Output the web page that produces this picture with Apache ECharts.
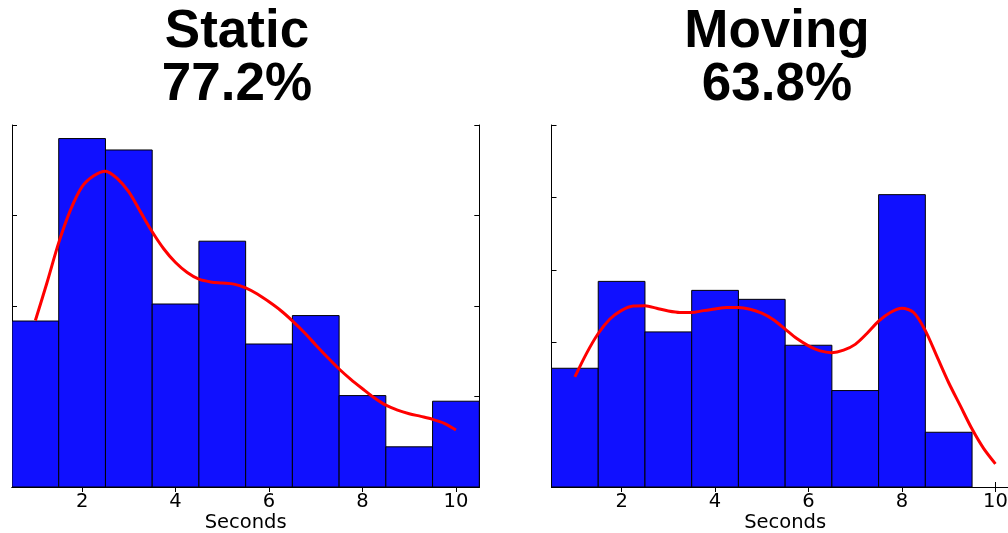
<!DOCTYPE html>
<html><head><meta charset="utf-8">
<script src="https://cdn.jsdelivr.net/npm/echarts@6/dist/echarts.min.js"></script>
<style>html,body{margin:0;padding:0;background:#fff}#c{width:1008px;height:533px}</style>
</head><body><div id="c"></div>
<script>
// ---- data ----
const binCenters = [1, 2, 3, 4, 5, 6, 7, 8, 9, 10];
const staticDensity = [0.0917, 0.1925, 0.1862, 0.1011, 0.1358, 0.0790, 0.0947, 0.0505, 0.0222, 0.0474];
const movingDensity = [0.0820, 0.1420, 0.1071, 0.1358, 0.1296, 0.0979, 0.0666, 0.2019, 0.0378, 0];
const kdeX = [1, 1.25, 1.5, 1.75, 2, 2.25, 2.5, 2.75, 3, 3.25, 3.5, 3.75, 4, 4.25, 4.5, 4.75, 5, 5.25, 5.5, 5.75,
              6, 6.25, 6.5, 6.75, 7, 7.25, 7.5, 7.75, 8, 8.25, 8.5, 8.75, 9, 9.25, 9.5, 9.75, 10];
const staticKde = [0.092, 0.113, 0.135, 0.153, 0.166, 0.172, 0.1745, 0.1705, 0.163, 0.152, 0.141, 0.1315, 0.124, 0.1185,
                   0.1148, 0.1133, 0.1127, 0.1121, 0.110, 0.1066, 0.1023, 0.0975, 0.0918, 0.0855, 0.0785, 0.0717, 0.0652,
                   0.0595, 0.0543, 0.0493, 0.0452, 0.0425, 0.0405, 0.039, 0.0374, 0.0352, 0.0315];
const movingKde = [0.076, 0.0923, 0.106, 0.116, 0.122, 0.125, 0.1252, 0.1234, 0.1215, 0.1205, 0.1205, 0.1218, 0.123,
                   0.124, 0.124, 0.1228, 0.120, 0.1155, 0.109, 0.1025, 0.0975, 0.094, 0.0928, 0.0945, 0.0985, 0.106,
                   0.1145, 0.1205, 0.1234, 0.1205, 0.108, 0.090, 0.072, 0.056, 0.040, 0.0265, 0.016];
const xTickValues = [2, 4, 6, 8, 10];
const panelTitles = ['Static\n77.2%', 'Moving\n63.8%'];
const xAxisName = 'Seconds';
const yMax = [0.2, 0.25];
const yStep = 0.05;

// ---- chart ----
const chart = echarts.init(document.getElementById('c'), null, {renderer: 'canvas'});
const grids = [
  {left: 12, top: 125, width: 467.3, height: 362, outerBoundsMode: 'none', containLabel: false},
  {left: 551.5, top: 125, width: 467.3, height: 362, outerBoundsMode: 'none', containLabel: false}
];
const tickFont = {fontFamily: 'DejaVu Sans', fontSize: 19.5, color: '#000'};
const xAxes = [], yAxes = [], series = [];
grids.forEach((g, i) => {
  xAxes.push({
    gridIndex: i, type: 'value', position: 'bottom', min: 0.5, max: 10.5,
    axisLine: {show: true, lineStyle: {color: '#000', width: 1}},
    axisTick: {show: true, inside: true, length: 5, customValues: xTickValues, lineStyle: {color: '#000'}},
    axisLabel: {show: true, customValues: xTickValues, margin: 5, ...tickFont},
    splitLine: {show: false},
    name: xAxisName, nameLocation: 'middle', nameGap: 26, nameMoveOverlap: false,
    nameTextStyle: {fontFamily: 'DejaVu Sans', fontSize: 19.5, color: '#000'}
  });
  xAxes.push({
    gridIndex: i, type: 'value', position: 'top', min: 0.5, max: 10.5,
    axisLine: {show: true, lineStyle: {color: '#000', width: 1}},
    axisTick: {show: true, inside: true, length: 5, customValues: xTickValues, lineStyle: {color: '#000'}},
    axisLabel: {show: false}, splitLine: {show: false}
  });
  yAxes.push({
    gridIndex: i, type: 'value', position: 'left', min: 0, max: yMax[i], interval: yStep,
    axisLine: {show: true, lineStyle: {color: '#000', width: 1}},
    axisTick: {show: true, inside: true, length: 5, lineStyle: {color: '#000'}},
    axisLabel: {show: false}, splitLine: {show: false}
  });
  yAxes.push({
    gridIndex: i, type: 'value', position: 'right', min: 0, max: yMax[i], interval: yStep,
    axisLine: {show: true, lineStyle: {color: '#000', width: 1}},
    axisTick: {show: true, inside: true, length: 5, lineStyle: {color: '#000'}},
    axisLabel: {show: false}, splitLine: {show: false}
  });
  const dens = i === 0 ? staticDensity : movingDensity;
  const kde = i === 0 ? staticKde : movingKde;
  series.push({
    type: 'custom', xAxisIndex: i * 2, yAxisIndex: i * 2, clip: true, z: 2,
    encode: {x: 0, y: 1},
    data: binCenters.map((c, k) => [c, dens[k]]),
    renderItem: function (params, api) {
      const x = api.value(0), h = api.value(1);
      if (!h) return null;
      const p0 = api.coord([x - 0.5, h]);
      const p1 = api.coord([x + 0.5, 0]);
      return {type: 'rect',
        shape: {x: p0[0], y: p0[1], width: p1[0] - p0[0], height: p1[1] - p0[1]},
        style: {fill: '#1010ff', stroke: '#000', lineWidth: 1}};
    }
  });
  series.push({
    type: 'line', xAxisIndex: i * 2, yAxisIndex: i * 2, z: 3,
    data: kdeX.map((x, k) => [x, kde[k]]),
    smooth: 0.3, showSymbol: false, symbol: 'none',
    lineStyle: {color: '#ff0000', width: 3}
  });
});

chart.setOption({
  animation: false,
  backgroundColor: '#fff',
  grid: grids,
  xAxis: xAxes,
  yAxis: yAxes,
  series: series,
  graphic: [
    {type: 'text', x: 237, y: 6, style: {text: panelTitles[0], textAlign: 'center', textVerticalAlign: 'top',
      fontFamily: 'Liberation Sans', fontWeight: 'bold', fontSize: 53, lineHeight: 53, fill: '#000'}},
    {type: 'text', x: 777, y: 6, style: {text: panelTitles[1], textAlign: 'center', textVerticalAlign: 'top',
      fontFamily: 'Liberation Sans', fontWeight: 'bold', fontSize: 53, lineHeight: 53, fill: '#000'}}
  ]
});
</script>
</body></html>
